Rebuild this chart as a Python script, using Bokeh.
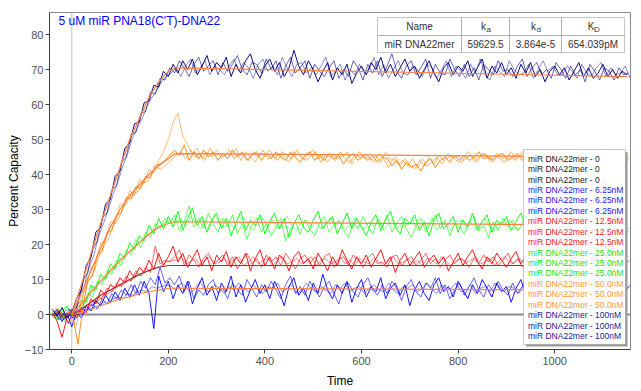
from bokeh.plotting import figure
from bokeh.models import Span, BoxAnnotation, Label, Range1d, FixedTicker
from bokeh.embed import file_html
from bokeh.resources import INLINE

# ---------------- data ----------------
TIME_A = list(range(-40, 1160, 10))
TIME_B = list(range(-37, 1163, 10))
TIME_C = list(range(-34, 1166, 10))

NAVY_A = [1.5, -0.5, 2.0, -1.0, 0.5,
          4.5, 7.0, 14.0, 16.5, 23.5, 25.0, 31.5, 33.0, 39.5, 41.0, 47.5, 49.0, 54.5, 55.0, 60.5, 61.0, 65.5, 65.0, 69.5, 68.0,
          71.5, 69.0, 72.5, 70.0, 73.0, 68.5, 71.0, 74.0, 69.5, 72.0,
          70.5, 73.5, 68.0, 71.5, 69.0, 72.5, 74.5, 70.0, 67.5, 71.0,
          73.0, 69.5, 72.0, 68.0, 70.5, 75.5, 71.0, 68.5, 72.5, 70.0,
          66.5, 69.5, 72.0, 67.0, 70.5, 68.5, 71.5, 66.0, 69.0, 71.0,
          68.5, 72.0, 70.0, 73.5, 69.0, 71.5, 68.0, 70.5, 73.0, 69.5,
          71.0, 67.5, 70.0, 72.5, 69.0, 66.5, 70.5, 72.0, 68.5, 71.0,
          69.5, 72.5, 68.0, 70.5, 73.0, 67.5, 71.0, 69.0, 72.0, 68.5,
          70.5, 67.5, 71.5, 69.0, 72.0, 68.0, 70.0, 66.5, 69.5, 71.0,
          68.5, 70.5, 67.0, 69.5, 72.0, 68.0, 70.5, 67.5, 69.0, 71.5,
          68.0, 70.0, 67.5, 69.5, 68.5]
NAVY_B = [-0.5, 1.0, -1.5, 0.0, -1.0,
          3.0, 9.5, 12.0, 18.5, 21.0, 27.5, 29.0, 35.5, 37.0, 43.5, 45.0, 51.5, 52.0, 57.5, 58.0, 63.5, 63.0, 67.5, 67.0, 70.5,
          69.0, 72.5, 70.5, 68.0, 71.5, 73.5, 69.5, 71.0, 72.5, 68.5,
          72.0, 69.5, 71.5, 74.0, 70.0, 68.5, 72.0, 71.5, 69.0, 73.0,
          70.0, 72.5, 67.5, 71.0, 73.5, 69.0, 70.5, 72.5, 67.5, 71.5,
          69.5, 68.0, 70.5, 72.5, 67.5, 70.0, 68.0, 72.5, 70.5, 67.0,
          71.5, 69.0, 72.5, 68.0, 71.0, 74.5, 69.5, 67.5, 71.0, 72.5,
          68.5, 70.5, 73.0, 67.5, 71.5, 69.0, 68.5, 73.0, 70.0, 68.0,
          71.5, 68.0, 70.5, 67.0, 71.5, 70.0, 68.5, 72.5, 69.5, 70.0,
          68.0, 71.0, 73.0, 68.0, 70.5, 72.0, 68.5, 70.0, 67.5, 72.0,
          70.0, 67.5, 71.0, 68.5, 70.0, 66.5, 71.5, 69.5, 67.0, 70.5,
          69.5, 67.0, 70.5, 68.5, 69.0]
NAVY_C = [0.5, -1.5, 1.0, 1.5, 0.0,
          5.5, 8.0, 13.5, 17.0, 22.5, 26.0, 30.0, 34.5, 38.0, 42.5, 46.0, 50.5, 53.5, 56.0, 59.5, 62.0, 64.0, 66.5, 68.0, 69.0,
          70.5, 68.0, 71.0, 73.0, 69.0, 70.5, 72.5, 68.5, 71.0, 70.0,
          68.5, 71.0, 73.0, 69.5, 72.0, 70.5, 67.5, 71.5, 73.0, 69.5,
          71.0, 68.5, 73.5, 70.5, 68.0, 71.5, 72.0, 69.0, 70.5, 68.5,
          71.0, 73.5, 68.0, 69.5, 71.5, 67.0, 70.0, 68.5, 71.5, 69.0,
          70.0, 73.5, 68.5, 71.5, 67.5, 70.0, 72.5, 69.0, 68.5, 71.0,
          70.0, 68.0, 71.5, 70.5, 67.5, 70.0, 72.5, 68.0, 71.0, 69.5,
          67.5, 71.5, 69.0, 73.0, 68.5, 67.0, 71.0, 69.5, 68.0, 72.5,
          70.0, 68.5, 69.0, 71.5, 67.5, 70.0, 72.5, 69.5, 71.0, 68.5,
          68.5, 71.0, 69.5, 67.5, 71.5, 69.0, 68.0, 70.5, 72.0, 68.0,
          70.5, 68.5, 69.0, 71.0, 67.5]

ORANGE_A = [1.0, -1.0, 0.5, -2.0, -1.5,
            -3.0, 4.5, 8.0, 13.5, 15.0, 20.5, 21.0, 26.5, 26.0, 31.5, 31.0, 35.5, 34.0, 38.5, 37.5, 41.5, 40.5, 44.0, 46.5, 50.0,
            55.0, 57.5, 51.0, 48.5, 46.0, 47.5, 44.5, 46.5, 45.0, 47.0,
            44.5, 46.0, 45.5, 47.5, 44.0, 46.5, 45.0, 43.5, 46.0, 45.5,
            47.0, 44.5, 46.0, 45.0, 43.5, 46.5, 45.5, 44.0, 46.0, 47.0,
            44.5, 45.5, 43.5, 46.0, 44.5, 45.0, 46.5, 43.0, 45.5, 44.5,
            46.0, 44.0, 45.5, 43.5, 46.5, 44.0, 45.0, 42.5, 44.5, 43.0,
            41.5, 44.0, 42.5, 45.0, 43.0, 45.5, 44.0, 46.0, 44.5, 45.5,
            44.0, 46.5, 45.0, 44.0, 46.0, 45.5, 43.5, 46.0, 44.5, 45.0,
            46.5, 44.0, 45.5, 43.5, 45.0, 46.5, 44.0, 45.5, 43.0, 45.0,
            44.5, 46.0, 43.5, 45.5, 44.0, 45.0, 43.5, 46.0, 44.5, 45.0,
            43.5, 45.5, 44.0, 46.0, 44.5]
ORANGE_B = [-0.5, 1.5, -1.0, 0.5, -1.0,
            -8.5, 2.0, 9.5, 11.0, 17.0, 18.0, 23.5, 24.0, 28.5, 29.0, 33.5, 33.0, 36.5, 36.0, 39.5, 39.0, 42.5, 43.0, 44.0, 45.5,
            47.0, 45.5, 48.5, 44.0, 46.5, 44.5, 47.0, 45.0, 46.5, 44.0,
            46.0, 44.5, 47.0, 45.0, 46.5, 44.0, 45.5, 46.5, 44.0, 46.0,
            44.5, 46.5, 45.0, 44.0, 46.5, 45.0, 43.5, 45.5, 46.5, 44.0,
            45.5, 44.0, 46.0, 44.5, 45.5, 43.0, 45.0, 46.0, 44.0, 45.5,
            44.0, 45.5, 43.5, 45.0, 44.5, 42.5, 44.0, 41.5, 43.5, 42.0,
            43.0, 41.0, 43.5, 44.5, 42.0, 44.0, 45.0, 43.5, 45.5, 44.0,
            45.5, 44.0, 45.0, 46.5, 44.5, 45.0, 44.0, 45.5, 46.0, 44.0,
            45.0, 46.0, 44.0, 45.5, 44.5, 43.5, 45.5, 44.0, 46.0, 44.5,
            45.5, 44.0, 45.0, 46.5, 43.5, 45.5, 44.0, 45.0, 43.5, 46.0,
            44.5, 45.0, 43.5, 45.5, 44.0]
ORANGE_C = [2.0, 0.0, -1.5, 1.0, 0.5,
            1.0, 7.0, 10.0, 12.0, 16.5, 19.5, 21.5, 25.5, 27.0, 30.5, 32.5, 34.5, 35.0, 37.5, 38.0, 40.5, 42.0, 41.5, 43.0, 44.0,
            45.5, 46.5, 44.5, 47.0, 45.0, 46.0, 44.0, 47.5, 45.5, 46.0,
            45.0, 47.0, 44.5, 46.0, 45.5, 44.0, 46.5, 45.0, 47.0, 44.5,
            45.5, 44.0, 46.5, 45.5, 44.5, 47.0, 45.0, 44.0, 45.5, 46.5,
            43.5, 45.5, 45.0, 44.0, 46.5, 44.5, 43.5, 45.5, 46.5, 44.5,
            45.0, 43.5, 46.0, 44.5, 42.0, 44.5, 43.0, 44.0, 42.5, 44.5,
            42.0, 44.5, 42.5, 43.5, 45.0, 43.0, 44.5, 45.5, 44.0, 43.5,
            44.5, 45.5, 43.5, 45.0, 46.0, 44.0, 45.5, 44.5, 43.5, 45.5,
            44.0, 45.5, 46.5, 44.5, 43.5, 45.0, 46.0, 44.5, 45.0, 43.5,
            46.0, 44.5, 45.5, 44.0, 45.0, 46.0, 44.5, 43.0, 45.5, 44.5,
            45.5, 43.5, 45.0, 44.0, 45.5]

GREEN_A = [0.5, -1.5, 1.0, 2.5, -0.5,
           2.5, 4.0, 3.5, 8.5, 7.0, 11.5, 10.0, 14.5, 13.0, 17.5, 16.0, 20.5, 18.5, 22.5, 21.0, 25.5, 23.0, 27.5, 24.5, 28.0,
           25.0, 29.5, 24.0, 27.5, 30.5, 25.5, 28.0, 23.5, 27.0, 29.0,
           24.5, 27.5, 22.5, 26.0, 29.5, 24.0, 27.0, 25.5, 28.5, 23.0,
           26.5, 29.0, 24.5, 27.5, 22.0, 26.0, 28.5, 25.0, 23.5, 27.0,
           29.5, 24.5, 26.5, 28.0, 23.0, 26.0, 29.0, 24.5, 27.5, 25.0,
           22.5, 26.5, 28.5, 24.0, 27.0, 29.5, 25.0, 23.0, 27.5, 26.0,
           28.5, 24.0, 26.5, 22.5, 27.0, 29.0, 24.5, 26.0, 28.0, 23.5,
           27.0, 25.0, 29.0, 24.0, 26.5, 28.5, 23.5, 27.0, 25.5, 28.0,
           24.0, 26.5, 29.0, 25.0, 27.0, 23.0, 26.5, 28.5, 24.5, 27.0,
           25.5, 28.0, 23.5, 26.5, 29.0, 24.5, 26.0, 28.5, 25.0, 27.5,
           24.0, 26.5, 28.5, 25.0, 27.0]
GREEN_B = [-1.0, 1.5, -0.5, 0.0, 1.5,
           0.5, 2.0, 6.0, 5.0, 9.5, 8.5, 12.5, 11.5, 15.5, 14.0, 18.5, 17.0, 21.5, 19.0, 23.5, 22.0, 26.0, 24.5, 27.5, 26.0,
           28.5, 24.0, 26.5, 31.0, 25.0, 27.5, 24.5, 29.0, 26.0, 23.5,
           27.5, 25.0, 28.5, 23.0, 26.0, 21.5, 25.5, 27.5, 23.5, 26.0,
           22.5, 25.0, 27.5, 21.0, 24.5, 26.5, 23.0, 27.0, 24.5, 22.5,
           26.0, 28.0, 23.5, 25.5, 27.0, 24.0, 22.0, 26.5, 24.5, 28.0,
           25.5, 23.0, 27.0, 25.0, 28.5, 23.5, 26.0, 28.0, 24.5, 22.0,
           25.5, 27.5, 23.5, 26.0, 28.5, 24.5, 27.0, 22.5, 26.0, 25.0,
           23.0, 26.5, 28.0, 24.0, 25.5, 22.0, 26.5, 24.0, 27.5, 25.0,
           27.0, 24.0, 26.0, 28.5, 23.5, 26.0, 24.5, 27.5, 23.0, 25.5,
           28.0, 24.0, 26.5, 23.5, 25.5, 27.5, 23.0, 26.0, 28.0, 24.5,
           26.5, 24.0, 27.5, 25.5, 23.5]
GREEN_C = [1.0, 0.5, -2.0, 1.0, 0.0,
           1.0, 3.5, 5.0, 7.0, 9.0, 10.0, 11.5, 13.0, 14.0, 16.0, 17.5, 18.5, 20.0, 21.5, 22.5, 23.5, 24.5, 25.5, 26.5, 27.0,
           26.0, 27.5, 25.5, 28.0, 26.5, 24.5, 27.0, 25.0, 28.5, 26.0,
           25.0, 27.0, 24.5, 26.5, 28.0, 25.5, 24.0, 26.5, 27.5, 25.0,
           27.0, 24.5, 26.0, 28.0, 25.5, 24.0, 26.5, 27.0, 25.0, 26.5,
           24.5, 26.0, 27.5, 25.0, 26.5, 24.0, 26.0, 27.5, 25.5, 24.5,
           26.5, 25.0, 27.5, 24.0, 26.0, 27.0, 24.5, 26.5, 25.5, 27.0,
           24.5, 26.0, 25.0, 27.5, 24.0, 26.5, 25.5, 24.0, 26.5, 27.0,
           25.0, 26.5, 24.5, 26.0, 27.5, 25.0, 24.0, 26.5, 25.5, 27.0,
           25.5, 24.0, 26.5, 25.0, 27.0, 24.5, 26.0, 25.5, 27.5, 24.5,
           26.0, 25.0, 27.0, 24.5, 26.5, 25.5, 24.0, 26.5, 25.0, 27.0,
           25.5, 24.0, 26.5, 25.5, 24.5]

RED_A = [0.5, -2.0, -6.5, -1.0, 1.5,
         -1.0, 2.0, 0.5, 4.5, 3.0, 7.0, 5.5, 8.5, 7.5, 10.5, 9.0, 12.5, 10.5, 13.5, 12.0, 15.5, 13.0, 17.5, 14.0, 16.5,
         19.5, 15.0, 17.5, 13.5, 16.0, 18.5, 14.0, 16.5, 12.5, 17.0,
         15.0, 18.0, 13.5, 16.5, 14.5, 17.5, 12.5, 16.0, 18.5, 14.0,
         16.5, 13.0, 17.0, 15.5, 12.5, 16.5, 18.0, 14.5, 16.0, 13.0,
         17.5, 15.0, 12.5, 16.5, 14.0, 18.5, 15.5, 13.0, 16.5, 14.5,
         17.0, 13.5, 16.0, 18.5, 14.5, 16.5, 12.0, 15.5, 17.5, 14.0,
         16.0, 18.0, 13.5, 15.5, 17.0, 14.5, 16.5, 12.5, 15.0, 17.5,
         14.0, 16.5, 18.5, 15.0, 13.0, 16.5, 14.5, 17.5, 15.5, 13.5,
         16.0, 18.0, 14.5, 16.5, 13.0, 15.5, 17.5, 14.0, 16.0, 18.5,
         15.0, 13.5, 16.5, 14.5, 17.0, 15.0, 13.0, 16.5, 18.0, 14.5,
         16.0, 14.0, 17.5, 15.0, 16.5]
RED_B = [-1.0, 1.0, 0.0, -2.5, 0.5,
         0.0, 1.5, 3.0, 2.5, 5.0, 4.5, 7.5, 6.5, 9.0, 8.0, 11.0, 9.5, 12.5, 11.0, 13.5, 12.0, 19.5, 14.5, 15.5, 15.0,
         16.5, 18.5, 14.0, 17.0, 15.5, 13.5, 16.0, 17.5, 14.5, 15.5,
         17.0, 14.0, 16.5, 13.0, 15.5, 17.5, 14.5, 16.0, 13.5, 17.0,
         15.0, 16.5, 14.0, 17.5, 15.5, 13.0, 16.0, 17.0, 14.5, 16.5,
         14.0, 16.5, 17.5, 13.5, 15.5, 16.5, 14.0, 17.0, 15.5, 13.5,
         16.0, 17.5, 14.5, 15.0, 13.5, 16.5, 17.0, 14.0, 15.5, 16.5,
         14.0, 15.5, 17.5, 14.5, 16.0, 13.5, 15.5, 17.0, 14.5, 16.0,
         15.5, 13.5, 16.0, 14.5, 17.0, 15.0, 16.5, 14.0, 15.5, 17.5,
         14.5, 16.0, 13.5, 15.5, 17.0, 15.0, 14.0, 16.5, 15.0, 13.5,
         16.5, 15.5, 14.0, 17.0, 15.0, 16.0, 14.5, 15.5, 17.0, 14.0,
         15.5, 17.0, 14.5, 16.0, 15.0]
RED_C = [1.5, 0.0, -1.0, 0.5, -0.5,
         1.0, 0.5, 2.5, 3.5, 4.0, 5.5, 6.0, 7.0, 8.0, 8.5, 9.5, 10.0, 11.0, 11.5, 12.5, 13.0, 13.5, 14.0, 15.0, 15.5,
         15.5, 16.5, 14.5, 15.0, 16.0, 14.0, 15.5, 16.5, 14.5, 15.0,
         16.0, 14.5, 15.5, 16.5, 14.0, 15.0, 16.5, 14.5, 15.5, 16.0,
         14.0, 15.5, 16.5, 14.5, 15.0, 16.0, 14.5, 15.5, 16.5, 14.0,
         15.5, 16.0, 14.5, 15.0, 16.5, 14.5, 15.5, 14.0, 16.0, 15.0,
         14.5, 16.0, 15.0, 14.0, 15.5, 16.5, 14.5, 15.0, 16.0, 14.5,
         15.5, 14.0, 16.0, 15.5, 14.5, 16.5, 15.0, 14.0, 15.5, 16.0,
         14.5, 15.5, 16.5, 14.5, 15.0, 16.0, 14.0, 15.5, 16.5, 15.0,
         14.5, 16.0, 15.0, 14.0, 15.5, 16.5, 14.5, 15.0, 16.0, 14.5,
         15.5, 16.0, 14.5, 15.0, 16.5, 14.5, 15.5, 14.0, 16.0, 15.0,
         14.5, 16.0, 15.5, 14.5, 15.5]

BLUE_A = [-0.5, 1.5, -2.0, 0.5, -3.5,
          0.5, -1.0, 2.5, 1.0, 4.0, 2.5, 5.5, 3.5, 6.5, 4.0, 7.5, 5.0, 8.5, 5.5, 9.5, 6.0, -4.0, 11.0, 6.5, 9.5,
          4.5, 8.5, 6.0, 9.5, 3.0, 7.5, 10.5, 5.5, 8.0, 4.0,
          9.0, 6.5, 11.0, 5.0, 8.5, 3.5, 7.0, 10.0, 6.0, 8.5,
          4.5, 9.5, 6.5, 2.5, 8.0, 10.5, 5.5, 7.5, 4.0, 9.0,
          6.0, 11.5, 7.0, 4.5, 8.5, 6.0, 9.5, 3.5, 7.5, 10.0,
          5.0, 8.0, 6.5, 10.5, 4.5, 7.5, 9.0, 5.5, 8.5, 2.5,
          7.0, 9.5, 6.0, 4.0, 8.5, 10.5, 6.5, 8.0, 5.0, 9.5,
          7.0, 4.5, 8.5, 6.0, 10.0, 7.5, 5.0, 9.0, 6.5, 8.0,
          3.5, 7.5, 10.0, 6.0, 8.5, 5.5, 9.5, 7.0, 4.5, 8.0,
          6.5, 10.5, 5.0, 7.5, 9.0, 6.0, 8.5, 4.5, 7.5, 10.0,
          6.0, 8.5, 5.5, 9.5, 7.5]
BLUE_B = [1.0, -1.5, 0.5, -2.5, 1.0,
          1.5, 0.0, 1.5, 3.0, 1.5, 4.5, 3.0, 6.0, 4.5, 7.0, 5.5, 8.5, 6.0, 9.5, 7.5, 10.5, 8.5, 13.5, 9.0, 10.5,
          8.5, 11.0, 6.5, 9.5, 4.5, 7.0, 5.5, 8.5, 10.0, 6.0,
          7.5, 4.5, 9.0, 7.0, 5.5, 10.0, 7.5, 5.0, 8.5, 6.5,
          9.5, 7.0, 4.5, 8.5, 11.0, 6.0, 8.0, 5.5, 9.5, 7.0,
          5.0, 8.0, 9.5, 6.0, 3.0, 7.5, 9.0, 6.5, 5.0, 8.5,
          10.5, 7.0, 5.5, 8.5, 6.0, 9.5, 7.5, 4.0, 8.0, 10.0,
          6.5, 5.0, 9.0, 7.5, 10.5, 6.0, 8.5, 4.5, 7.0, 9.0,
          5.5, 8.0, 10.5, 7.0, 5.0, 8.5, 6.5, 9.5, 7.0, 5.5,
          9.0, 6.0, 8.0, 11.0, 7.5, 5.5, 8.5, 6.5, 9.5, 7.0,
          5.0, 8.0, 9.5, 6.0, 4.5, 8.0, 6.5, 10.0, 7.5, 5.5,
          8.5, 7.0, 9.5, 6.0, 8.0]
BLUE_C = [0.0, 0.5, -1.0, 1.5, -1.5,
          0.0, 1.0, 1.5, 2.0, 2.5, 3.5, 3.0, 4.5, 5.0, 4.5, 6.0, 5.5, 6.5, 7.0, 6.5, 8.0, 7.5, 8.0, 8.5, 8.0,
          7.0, 9.0, 8.0, 6.0, 7.5, 9.5, 7.0, 6.5, 8.5, 7.5,
          6.0, 8.0, 7.0, 9.0, 7.5, 6.5, 8.5, 7.0, 6.0, 8.0,
          7.5, 9.0, 6.5, 7.5, 8.5, 6.0, 7.0, 9.0, 7.5, 6.5,
          8.0, 7.0, 6.0, 8.5, 7.5, 9.0, 6.5, 7.5, 8.0, 6.0,
          7.5, 8.5, 7.0, 6.5, 9.0, 7.0, 6.0, 8.0, 7.5, 8.5,
          6.5, 7.5, 9.0, 7.0, 6.0, 8.5, 7.0, 7.5, 9.0, 6.5,
          7.0, 8.5, 6.0, 7.5, 8.0, 6.5, 9.0, 7.5, 6.5, 8.0,
          7.5, 6.0, 8.5, 7.0, 9.0, 7.5, 6.5, 8.0, 7.0, 6.0,
          8.5, 7.5, 6.5, 9.0, 7.0, 8.0, 6.5, 7.5, 8.5, 7.0,
          6.0, 8.0, 7.5, 6.5, 8.5]

FIT_TIME = [0, 20, 40, 60, 80, 100, 120, 140, 160, 180, 200, 215, 1150]
FIT_100 = [0, 8.5, 17.5, 26, 34, 42, 50, 56, 62, 66.5, 69.5, 70.5, 68.0]
FIT_50 = [0, 6, 12.5, 19, 25, 30, 34, 37, 40, 42.5, 44.5, 46, 45.0]
FIT_25 = [0, 3, 6.5, 9.5, 12.5, 15.5, 18, 20.5, 23, 25, 26, 26.5, 25.5]
FIT_12 = [0, 1.5, 3.5, 5.5, 7, 8.5, 10, 11.5, 12.5, 13.5, 14, 14, 14]
FIT_6 = [0, 0.5, 1.5, 2.5, 3.5, 4.5, 5, 6, 6.5, 7, 7.5, 7.5, 7.0]

LEGEND_LABELS = ["miR DNA22mer - 0"] * 3 + ["miR DNA22mer - 6.25nM"] * 3 + \
                ["miR DNA22mer - 12.5nM"] * 3 + ["miR DNA22mer - 25.0nM"] * 3 + \
                ["miR DNA22mer - 50.0nM"] * 3 + ["miR DNA22mer - 100nM"] * 3
LEGEND_COLORS = ["#202020"] * 3 + ["#2020FF"] * 3 + ["#FF2020"] * 3 + \
                ["#20E020"] * 3 + ["#FF9A30"] * 3 + ["#202090"] * 3

TABLE_HEAD = ["Name", "k", "k", "K"]
TABLE_SUB = ["", "a", "d", "D"]
TABLE_ROW = ["miR DNA22mer", "59629.5", "3.864e-5", "654.039pM"]

TITLE = "5 uM miR PNA18(C'T)-DNA22"
X_TICKS = [0, 200, 400, 600, 800, 1000]
Y_TICKS = [-10, 0, 10, 20, 30, 40, 50, 60, 70, 80]

# ---------------- layout ----------------
X0, X1 = -46, 1157
Y0, Y1 = -10, 86.3
FL, FR, FT, FB = 49, 630, 12, 349   # frame edges, page pixels


def dx(px):
    return X0 + (px - FL) * (X1 - X0) / (FR - FL)


def dy(py):
    return Y1 - (py - FT) * (Y1 - Y0) / (FB - FT)


FONT = "Liberation Sans"

p = figure(width=633, height=390, x_range=Range1d(X0, X1), y_range=Range1d(Y0, Y1),
           output_backend="svg", toolbar_location=None,
           min_border_left=49, min_border_right=3, min_border_top=12, min_border_bottom=41)
p.grid.visible = False
p.outline_line_color = "#8a8a8a"
p.outline_line_width = 1
p.background_fill_color = "white"
p.border_fill_color = "white"

for ax in (p.xaxis[0], p.yaxis[0]):
    ax.axis_line_color = "#404040"
    ax.major_tick_line_color = "#404040"
    ax.minor_tick_line_color = None
    ax.major_tick_out = 4
    ax.major_tick_in = 0
    ax.major_label_text_font = FONT
    ax.major_label_text_font_size = "11px"
    ax.major_label_text_color = "#505050"
    ax.axis_label_text_font = FONT
    ax.axis_label_text_font_size = "12px"
    ax.axis_label_text_font_style = "normal"
    ax.axis_label_text_color = "#000000"

p.xaxis.major_label_standoff = 3
p.yaxis.major_label_standoff = 2
p.xaxis.axis_label_standoff = 6
p.yaxis.axis_label_standoff = 1
p.xaxis.ticker = FixedTicker(ticks=X_TICKS)
p.yaxis.ticker = FixedTicker(ticks=Y_TICKS)
p.xaxis.axis_label = "Time"
p.yaxis.axis_label = "Percent Capacity"

p.add_layout(Span(location=0, dimension="height", line_color="#d4d4d4", line_width=1.5, level="underlay"))
p.add_layout(Span(location=0, dimension="width", line_color="#8c8c8c", line_width=2, level="underlay"))

traces = [
    (TIME_A, GREEN_A, "#00FF00", 0.9), (TIME_B, GREEN_B, "#00FF00", 0.6), (TIME_C, GREEN_C, "#00FF00", 0.45),
    (TIME_A, RED_A, "#FF0000", 0.9), (TIME_B, RED_B, "#FF0000", 0.6), (TIME_C, RED_C, "#FF0000", 0.45),
    (TIME_A, BLUE_A, "#0000FF", 0.9), (TIME_B, BLUE_B, "#0000FF", 0.6), (TIME_C, BLUE_C, "#0000FF", 0.45),
    (TIME_A, ORANGE_A, "#FF8000", 0.55), (TIME_B, ORANGE_B, "#FF8000", 0.9), (TIME_C, ORANGE_C, "#FF8000", 0.6),
    (TIME_A, NAVY_A, "#000080", 0.95), (TIME_B, NAVY_B, "#000080", 0.6), (TIME_C, NAVY_C, "#000080", 0.45),
]
for ts, ys, col, a in traces:
    n = min(len(ts), len(ys))
    p.line(ts[:n], ys[:n], line_color=col, line_alpha=a, line_width=1)

for fy, col in [(FIT_100, "#FF8040"), (FIT_50, "#FF8040"), (FIT_25, "#FF8040"),
                (FIT_12, "#993333"), (FIT_6, "#FF8040")]:
    p.line(FIT_TIME, fy, line_color=col, line_width=1.2)

# title inside plot
p.add_layout(Label(x=dx(58), y=dy(20), text=TITLE, text_font=FONT, text_font_size="12px",
                   text_color="#0000FF", text_baseline="middle", text_align="left"))

# table
cols = [377, 461, 509, 561, 624]
rows = [17, 35, 52]
for r in range(2):
    for c in range(4):
        p.add_layout(BoxAnnotation(left=dx(cols[c]), right=dx(cols[c + 1]),
                                   top=dy(rows[r]), bottom=dy(rows[r + 1]),
                                   fill_color="white", fill_alpha=1.0,
                                   line_color="#404040", line_width=1))
for c in range(4):
    cx = (cols[c] + cols[c + 1]) / 2
    if TABLE_SUB[c]:
        p.add_layout(Label(x=dx(cx - 2), y=dy(26), text=TABLE_HEAD[c], text_font=FONT,
                           text_font_size="10px", text_color="#333333",
                           text_baseline="middle", text_align="center"))
        p.add_layout(Label(x=dx(cx + 1), y=dy(29), text=TABLE_SUB[c], text_font=FONT,
                           text_font_size="8px", text_color="#333333",
                           text_baseline="middle", text_align="left"))
    else:
        p.add_layout(Label(x=dx(cx), y=dy(26), text=TABLE_HEAD[c], text_font=FONT,
                           text_font_size="10px", text_color="#333333",
                           text_baseline="middle", text_align="center"))
    p.add_layout(Label(x=dx(cx), y=dy(43.5), text=TABLE_ROW[c], text_font=FONT,
                       text_font_size="10px", text_color="#333333",
                       text_baseline="middle", text_align="center"))

# legend box with shadow
p.add_layout(BoxAnnotation(left=dx(525.5), right=dx(627), top=dy(151.5), bottom=dy(346),
                           fill_color="#9a9a9a", fill_alpha=1.0, line_color=None))
p.add_layout(BoxAnnotation(left=dx(523), right=dx(625), top=dy(149), bottom=dy(344),
                           fill_color="white", fill_alpha=1.0, line_color="#505050", line_width=1))
for i, (lab, col) in enumerate(zip(LEGEND_LABELS, LEGEND_COLORS)):
    p.add_layout(Label(x=dx(527.5), y=dy(158.3 + i * 10.42), text=lab, text_font=FONT,
                       text_font_size="8.5px", text_color=col,
                       text_baseline="middle", text_align="left"))

open("out.html", "w").write(file_html(p, INLINE))
